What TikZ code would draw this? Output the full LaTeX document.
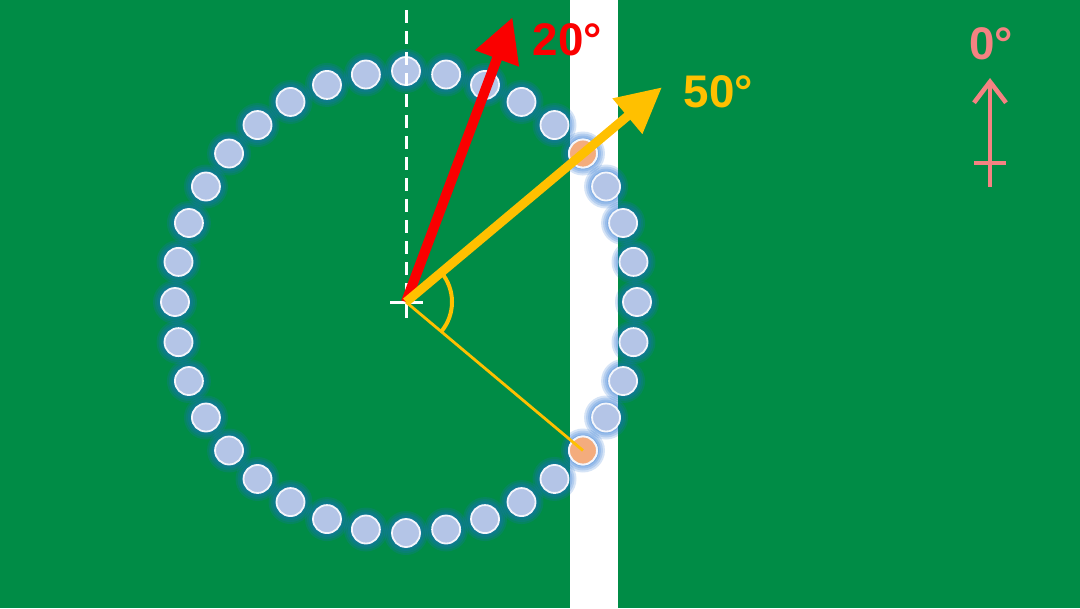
\documentclass[tikz,border=0pt]{standalone}
\usepackage{fontspec}
\setmainfont{Liberation Sans}
\usetikzlibrary{arrows.meta,calc}
\definecolor{field}{RGB}{0,140,70}
\definecolor{beadblue}{RGB}{180,197,231}
\definecolor{beadorange}{RGB}{244,172,125}
\definecolor{glowblue}{RGB}{30,110,210}
\definecolor{gold}{RGB}{255,192,0}
\definecolor{arrowred}{RGB}{250,0,0}
\definecolor{legendpink}{RGB}{245,130,130}
\tikzset{
  bead/.style = {fill=beadblue,draw=white!85!beadblue,line width=0.018cm},
  halo/.style = {fill=glowblue,fill opacity=0.18,draw=none},
  degtext/.style = {font=\bfseries\fontsize{13}{15}\selectfont,inner sep=0pt}
}
\begin{document}
\begin{tikzpicture}[x=0.01cm,y=0.01cm]
  \pgfmathsetmacro{\Radius}{231};
  \pgfmathsetmacro{\Bead}{14};
  %
  \coordinate (O) at (406,306);
  \coordinate (Top) at (406,598);
  \coordinate (Rtip) at ($(O)+(69.5:304)$);
  \coordinate (Ytip) at ($(O)+(40:334)$);
  \coordinate (Hit) at ($(O)+(-40:\Radius)$);
  %
  \useasboundingbox (0,0) rectangle (1080,608);
  \fill[field] (0,0) rectangle (1080,608);
  \fill[white] (570,0) rectangle (618,608);
  % beads
  \foreach \a in {0,10,...,350}{
    \foreach \g in {8,6,4,2} \fill[halo] ($(O)+(\a:\Radius)$) circle ({\Bead+\g});
    \draw[bead] ($(O)+(\a:\Radius)$) circle (\Bead);
  }
  \foreach \a in {40,-40}
    \draw[bead,fill=beadorange] ($(O)+(\a:\Radius)$) circle (\Bead);
  % reference line
  \draw[white,line width=0.03cm,dash pattern=on 0.13cm off 0.08cm] (Top) -- (O);
  \draw[white,line width=0.03cm] (390,306) -- (423,306);
  \draw[white,line width=0.03cm] (O) -- (406,290);
  % angle
  \draw[gold,line width=0.028cm] (O) -- (Hit);
  \draw[gold,line width=0.04cm] ($(O)+(40:46)$) arc (40:-40:46);
  % arrows
  \draw[arrowred,line width=0.1cm,-{Triangle[width=0.44cm,length=0.44cm]}] (O) -- (Rtip);
  \draw[gold,line width=0.09cm,-{Triangle[width=0.44cm,length=0.45cm]}] (O) -- (Ytip);
  \node[degtext,arrowred,anchor=west] (red) at (532,568) {20°};
  \node[degtext,gold,anchor=west] (yellow) at (683,516) {50°};
  % legend
  \coordinate (Lbase) at (990,421);
  \coordinate (Ltop) at (990,530);
  \draw[legendpink,line width=0.045cm,-{Straight Barb[width=0.32cm,length=0.21cm]}] (Lbase) -- (Ltop);
  \draw[legendpink,line width=0.045cm] (974,445) -- (1006,445);
  \node[degtext,legendpink] (zero) at (991,564) {0°};
\end{tikzpicture}
\end{document}
